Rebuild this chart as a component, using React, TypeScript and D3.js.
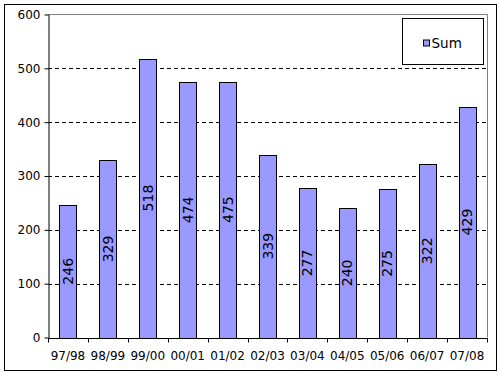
import { useEffect, useRef } from "react";
import * as d3 from "d3";

const seasons = ["97/98", "98/99", "99/00", "00/01", "01/02", "02/03", "03/04", "04/05", "05/06", "06/07", "07/08"];
const sums = [246, 329, 518, 474, 475, 339, 277, 240, 275, 322, 429];
const yTicks = [0, 100, 200, 300, 400, 500, 600];
const seriesName = "Sum";

export default function App() {
  const svgRef = useRef<SVGSVGElement>(null);

  useEffect(() => {
    const svg = d3.select(svgRef.current);
    svg.selectAll("*").remove();

    const plot = { left: 48, right: 487, top: 14.5, bottom: 337.5 };
    const font = "Verdana, 'DejaVu Sans', sans-serif";

    // outer chart border
    svg
      .append("rect")
      .attr("x", 4.5)
      .attr("y", 4.5)
      .attr("width", 492)
      .attr("height", 366)
      .attr("fill", "#fff")
      .attr("stroke", "#000")
      .attr("stroke-width", 1);

    const x = d3.scaleBand().domain(seasons).range([plot.left, plot.right]).paddingInner(0.575).paddingOuter(0.2875);
    const y = d3.scaleLinear().domain([0, 600]).range([plot.bottom, plot.top]);

    // grey plot border (top + right)
    svg
      .append("path")
      .attr("d", `M${plot.left},${plot.top}H${plot.right + 0.5}V${plot.bottom}`)
      .attr("fill", "none")
      .attr("stroke", "#808080");

    // dashed gridlines
    svg
      .append("g")
      .selectAll("line")
      .data(yTicks.filter((t) => t > 0 && t < 600))
      .enter()
      .append("line")
      .attr("x1", plot.left)
      .attr("x2", plot.right)
      .attr("y1", (d) => Math.round(y(d)) + 0.5)
      .attr("y2", (d) => Math.round(y(d)) + 0.5)
      .attr("stroke", "#000")
      .attr("stroke-dasharray", "4,3");

    // bars
    svg
      .append("g")
      .selectAll("rect")
      .data(sums)
      .enter()
      .append("rect")
      .attr("x", (d, i) => Math.round(x(seasons[i])!) + 0.5)
      .attr("y", (d) => Math.round(y(d)) + 0.5)
      .attr("width", Math.round(x.bandwidth()))
      .attr("height", (d) => Math.round(y(0)) - Math.round(y(d)))
      .attr("fill", "#9999ff")
      .attr("stroke", "#000");

    // value labels, rotated inside bars
    svg
      .append("g")
      .selectAll("text")
      .data(sums)
      .enter()
      .append("text")
      .attr("transform", (d, i) => {
        const cx = x(seasons[i])! + x.bandwidth() / 2;
        const cy = (y(d) + y(0)) / 2;
        return `translate(${cx + 5},${cy}) rotate(-90)`;
      })
      .attr("text-anchor", "middle")
      .attr("font-family", font)
      .attr("font-size", 14)
      .attr("fill", "#000")
      .text((d) => d);

    // y axis
    const yAxis = svg
      .append("g")
      .attr("transform", `translate(${plot.left + 0.5},0)`)
      .call(d3.axisLeft(y).tickValues(yTicks).tickSize(4).tickPadding(4).tickSizeOuter(0));
    yAxis.select(".domain").attr("stroke", "#000");
    yAxis
      .selectAll("text")
      .attr("font-family", font)
      .attr("font-size", 12)
      .attr("fill", "#000");

    // x axis with ticks between categories
    const xAxis = svg.append("g").attr("transform", `translate(0,${Math.round(plot.bottom) + 0.5})`);
    xAxis
      .append("line")
      .attr("x1", plot.left)
      .attr("x2", plot.right + 1)
      .attr("stroke", "#000");
    const step = x.step();
    xAxis
      .selectAll("line.tick")
      .data(d3.range(seasons.length + 1))
      .enter()
      .append("line")
      .attr("class", "tick")
      .attr("x1", (i) => Math.round(plot.left + i * step) + 0.5)
      .attr("x2", (i) => Math.round(plot.left + i * step) + 0.5)
      .attr("y1", 0)
      .attr("y2", 4)
      .attr("stroke", "#000");
    xAxis
      .selectAll("text")
      .data(seasons)
      .enter()
      .append("text")
      .attr("x", (d) => x(d)! + x.bandwidth() / 2)
      .attr("y", 21)
      .attr("text-anchor", "middle")
      .attr("font-family", font)
      .attr("font-size", 12)
      .attr("fill", "#000")
      .text((d) => d);

    // legend
    const legend = svg.append("g").attr("transform", "translate(402.5,18.5)");
    legend
      .append("rect")
      .attr("width", 81)
      .attr("height", 46)
      .attr("fill", "#fff")
      .attr("stroke", "#000");
    legend
      .append("rect")
      .attr("x", 21)
      .attr("y", 21.5)
      .attr("width", 6)
      .attr("height", 6)
      .attr("fill", "#9999ff")
      .attr("stroke", "#000");
    legend
      .append("text")
      .attr("x", 29)
      .attr("y", 29)
      .attr("font-family", font)
      .attr("font-size", 13.5)
      .attr("fill", "#000")
      .text(seriesName);
  }, []);

  return (
    <svg
      ref={svgRef}
      width={500}
      height={375}
      style={{ position: "absolute", left: 0, top: 0, display: "block", background: "#fff" }}
    />
  );
}
